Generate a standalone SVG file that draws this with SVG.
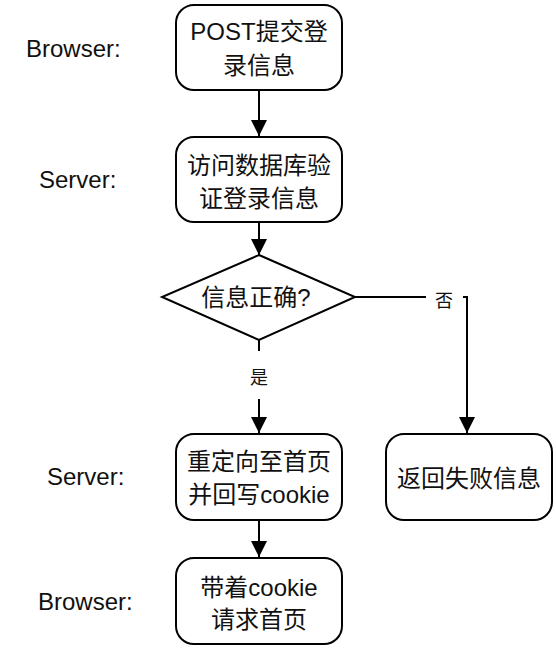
<svg xmlns="http://www.w3.org/2000/svg" width="556" height="650" viewBox="0 0 556 650">
<style>
.box{fill:#fff;stroke:#000;stroke-width:2}
.t{font-family:"Liberation Sans","Noto Sans CJK SC",sans-serif;font-size:24px;fill:#111;text-anchor:middle;dominant-baseline:central}
.lab{font-family:"Liberation Sans",Arial,sans-serif;font-size:24px;fill:#111}
.el{font-family:"Noto Sans CJK SC",sans-serif;font-size:18px;fill:#111;text-anchor:middle;dominant-baseline:central}
.c{fill:none;stroke:#000;stroke-width:2}
</style>
<defs>
<marker id="ah" markerUnits="userSpaceOnUse" markerWidth="16" markerHeight="18" refX="16" refY="8" orient="auto" viewBox="0 0 16 16">
<path d="M0,0 L16,8 L0,16 Z" fill="#000"/>
</marker>
</defs>
<rect width="556" height="650" fill="#fff"/>
<g id="lanes">
<text class="lab" x="26" y="57">Browser:</text>
<text class="lab" x="39" y="188">Server:</text>
<text class="lab" x="47" y="485">Server:</text>
<text class="lab" x="38" y="610">Browser:</text>
</g>
<g id="connectors">
<path class="c" d="M259,90 L259,136" marker-end="url(#ah)"/>
<path class="c" d="M259,222 L259,255" marker-end="url(#ah)"/>
<path class="c" d="M259,340 L259,433" marker-end="url(#ah)"/>
<path class="c" d="M355,297 L467,297 L467,433" marker-end="url(#ah)"/>
<path class="c" d="M259,520 L259,557" marker-end="url(#ah)"/>
<rect x="240" y="351" width="40" height="48" fill="#fff"/>
<text class="el" x="259" y="376">是</text>
<rect x="426" y="285" width="37" height="26" fill="#fff"/>
<text class="el" x="444" y="299">否</text>
</g>
<g id="n1">
<rect class="box" x="176" y="5" width="166" height="85" rx="18"/>
<text class="t" x="259" y="31">POST提交登</text>
<text class="t" x="259" y="65">录信息</text>
</g>
<g id="n2">
<rect class="box" x="176" y="137" width="166" height="85" rx="18"/>
<text class="t" x="259" y="165">访问数据库验</text>
<text class="t" x="259" y="198">证登录信息</text>
</g>
<g id="n3">
<path class="box" d="M259,255 L355,297 L259,340 L162,297 Z"/>
<text class="t" x="256" y="297">信息正确?</text>
</g>
<g id="n4">
<rect class="box" x="176" y="434" width="166" height="86" rx="18"/>
<text class="t" x="259" y="461">重定向至首页</text>
<text class="t" x="259" y="494">并回写cookie</text>
</g>
<g id="n5">
<rect class="box" x="386" y="434" width="166" height="86" rx="18"/>
<text class="t" x="469" y="478">返回失败信息</text>
</g>
<g id="n6">
<rect class="box" x="176" y="558" width="166" height="86" rx="18"/>
<text class="t" x="259" y="587">带着cookie</text>
<text class="t" x="259" y="619">请求首页</text>
</g>
</svg>
